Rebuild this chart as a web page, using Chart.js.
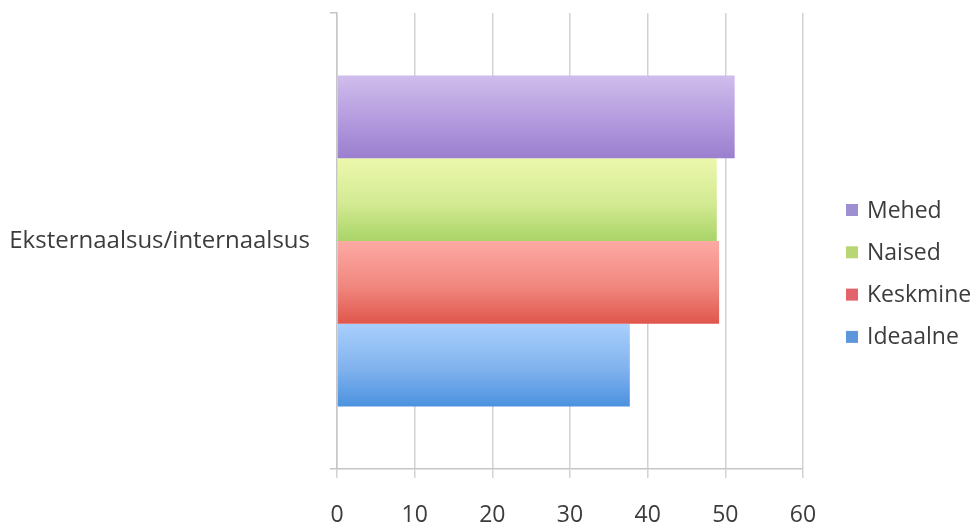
<!DOCTYPE html>
<html>
<head>
<meta charset="utf-8">
<script src="https://cdn.jsdelivr.net/npm/chart.js@4"></script>
<style>
html, body { margin: 0; padding: 0; background: #ffffff; }
#wrap { width: 975px; height: 526px; position: relative; }
</style>
</head>
<body>
<div id="wrap"><canvas id="c" width="975" height="526"></canvas></div>
<script>
// ---- data ----
const categories = ['Eksternaalsus/internaalsus'];
const seriesNames = ['Mehed', 'Naised', 'Keskmine', 'Ideaalne'];
const mehed = [51.2];
const naised = [48.9];
const keskmine = [49.2];
const ideaalne = [37.7];
const xTicks = [0, 10, 20, 30, 40, 50, 60];

// ---- styles ----
const gradMehed = ['#d0bdec', '#b39ade', '#9a7fcf'];
const gradNaised = ['#ecf8ad', '#d3ea92', '#a9d467'];
const gradKeskmine = ['#fdaaa4', '#f0877e', '#e0564c'];
const gradIdeaalne = ['#a9cffc', '#80b2ee', '#4b92df'];
const legendColors = ['#9d8fd0', '#b8d673', '#e2636a', '#5e96dc'];
const CAT_PCT = 0.726;
const FONT = '"Open Sans", "DejaVu Sans", sans-serif';
const TEXT = '#3c3c3c';
const GRID = '#d2d2d2';

const seriesValues = [mehed, naised, keskmine, ideaalne];
const seriesGrads = [gradMehed, gradNaised, gradKeskmine, gradIdeaalne];

function barGradient(c) {
  const chart = c.chart;
  const area = chart.chartArea;
  const stops = seriesGrads[c.datasetIndex];
  if (!area || !chart.scales.y) return stops[1];
  const ys = chart.scales.y;
  const center = ys.getPixelForValue(c.dataIndex);
  const catH = (area.bottom - area.top) / categories.length;
  const groupH = catH * CAT_PCT;
  const n = chart.data.datasets.length;
  const bh = groupH / n;
  const top = center - groupH / 2 + c.datasetIndex * bh;
  const g = chart.ctx.createLinearGradient(0, top, 0, top + bh);
  g.addColorStop(0, stops[0]);
  g.addColorStop(0.55, stops[1]);
  g.addColorStop(1, stops[2]);
  return g;
}

const sideLegend = {
  id: 'sideLegend',
  afterDraw(chart) {
    const ctx = chart.ctx;
    ctx.save();
    ctx.font = '23px ' + FONT;
    ctx.textBaseline = 'middle';
    ctx.textAlign = 'left';
    chart.data.datasets.forEach((ds, i) => {
      const cy = 210 + i * 42.3;
      ctx.fillStyle = legendColors[i];
      ctx.fillRect(846, cy - 6, 12, 12);
      ctx.fillStyle = TEXT;
      ctx.fillText(ds.label, 867, cy + 1);
    });
    ctx.restore();
  }
};

const datasets = seriesNames.map((name, i) => ({
  label: name,
  data: seriesValues[i],
  backgroundColor: barGradient,
  borderWidth: 0,
  categoryPercentage: CAT_PCT,
  barPercentage: 1.0
}));

new Chart(document.getElementById('c'), {
  type: 'bar',
  data: { labels: categories, datasets: datasets },
  plugins: [sideLegend],
  options: {
    indexAxis: 'y',
    responsive: false,
    animation: false,
    devicePixelRatio: 1,
    layout: { padding: { top: 13, right: 172, bottom: 0, left: 0 } },
    plugins: {
      legend: { display: false },
      tooltip: { enabled: false },
      title: { display: false }
    },
    scales: {
      x: {
        type: 'linear',
        min: xTicks[0],
        max: xTicks[xTicks.length - 1],
        afterBuildTicks: (s) => { s.ticks = xTicks.map(v => ({ value: v })); },
        afterFit: (s) => { s.height = 57; },
        grid: { color: GRID, lineWidth: 1.5, tickLength: 9, drawTicks: true },
        border: { display: true, color: '#c6c6c6', width: 1.5 },
        ticks: { color: TEXT, font: { family: FONT, size: 23 }, padding: 24, maxRotation: 0 }
      },
      y: {
        type: 'category',
        afterFit: (s) => { s.width = 337; s.paddingTop = 0; s.paddingBottom = 0; },
        grid: { drawOnChartArea: false, tickLength: 7, color: '#c6c6c6', lineWidth: 1.5, offset: true },
        border: { display: true, color: '#c6c6c6', width: 1.5 },
        ticks: { color: TEXT, font: { family: FONT, size: 24 }, padding: 20 }
      }
    }
  }
});
</script>
</body>
</html>
